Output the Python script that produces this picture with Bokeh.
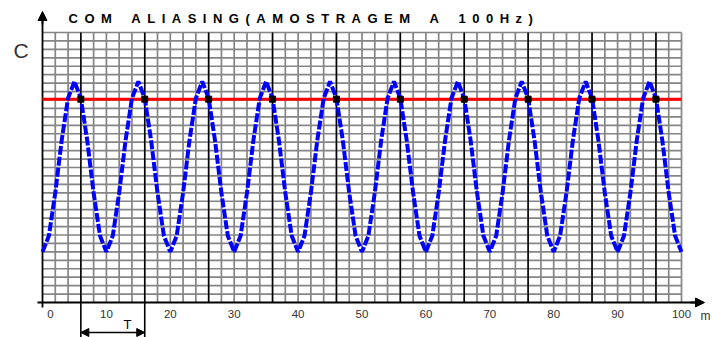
from bokeh.plotting import figure
from bokeh.models import Range1d, Arrow, NormalHead
from bokeh.core.properties import value
from bokeh.embed import file_html
from bokeh.resources import INLINE

# ---------------- data ----------------
TITLE_WORDS = ["COM", "ALIASING(AMOSTRAGEM", "A", "100Hz)"]
Y_LABEL = "C"
X_UNIT = "m"
T_LABEL = "T"
x_ticks = [0, 10, 20, 30, 40, 50, 60, 70, 80, 90, 100]
x_tick_labels = ["0", "10", "20", "30", "40", "50", "60", "70", "80", "90", "100"]

# blue signal, read every 1 ms
t_signal = list(range(0, 101))
c_signal = [
    6.0, 7.9, 13.0, 19.2, 24.2, 26.2, 24.2, 19.2, 13.0, 7.9,
    6.0, 7.9, 13.0, 19.2, 24.2, 26.2, 24.2, 19.2, 13.0, 7.9,
    6.0, 7.9, 13.0, 19.2, 24.2, 26.2, 24.2, 19.2, 13.0, 7.9,
    6.0, 7.9, 13.0, 19.2, 24.2, 26.2, 24.2, 19.2, 13.0, 7.9,
    6.0, 7.9, 13.0, 19.2, 24.2, 26.2, 24.2, 19.2, 13.0, 7.9,
    6.0, 7.9, 13.0, 19.2, 24.2, 26.2, 24.2, 19.2, 13.0, 7.9,
    6.0, 7.9, 13.0, 19.2, 24.2, 26.2, 24.2, 19.2, 13.0, 7.9,
    6.0, 7.9, 13.0, 19.2, 24.2, 26.2, 24.2, 19.2, 13.0, 7.9,
    6.0, 7.9, 13.0, 19.2, 24.2, 26.2, 24.2, 19.2, 13.0, 7.9,
    6.0, 7.9, 13.0, 19.2, 24.2, 26.2, 24.2, 19.2, 13.0, 7.9,
    6.0,
]
# samples at 100 Hz (every 10 ms)
t_samples = [6, 16, 26, 36, 46, 56, 66, 76, 86, 96]
c_samples = [24.1, 24.1, 24.1, 24.1, 24.1, 24.1, 24.1, 24.1, 24.1, 24.1]
aliased_level = 24.1
T_start, T_end = 6, 16

# ---------------- layout helpers ----------------
W, H = 712, 337
X0PX, XPX = 42.0, 6.39      # pixel of x=0, px per unit
Y0PX, YPX = 302.0, 270.0 / 32  # pixel of y=0, px per unit
GRID_X_MAX, GRID_Y_MAX = 100, 32


def dx(px):
    return (px - X0PX) / XPX


def dy(py):
    return (Y0PX - py) / YPX


p = figure(width=W, height=H, output_backend="svg", toolbar_location=None,
           x_range=Range1d(dx(0), dx(W)), y_range=Range1d(dy(H), dy(0)),
           x_axis_type=None, y_axis_type=None, min_border=0,
           outline_line_color=None, background_fill_color="white")
p.grid.visible = False

GRID = "#858585"
# minor grid
vx = list(range(2, GRID_X_MAX + 1, 2))
p.segment(x0=vx, y0=[0] * len(vx), x1=vx, y1=[GRID_Y_MAX] * len(vx),
          line_color=GRID, line_width=1.7)
hy = list(range(1, GRID_Y_MAX + 1))
p.segment(x0=[0] * len(hy), y0=hy, x1=[GRID_X_MAX] * len(hy), y1=hy,
          line_color=GRID, line_width=1.7)

# sample instants (black verticals)
p.segment(x0=t_samples, y0=[0] * len(t_samples), x1=t_samples,
          y1=[GRID_Y_MAX] * len(t_samples), line_color="black", line_width=1.5)

# axes
p.segment(x0=[dx(37)], y0=[0], x1=[dx(698)], y1=[0], line_color="black", line_width=1.8)
p.segment(x0=[0], y0=[dy(307)], x1=[0], y1=[dy(16)], line_color="black", line_width=1.8)
p.add_layout(Arrow(end=NormalHead(size=9, fill_color="black", line_color="black"),
                   x_start=dx(690), y_start=0, x_end=dx(704), y_end=0,
                   line_color="black", line_width=1.8))
p.add_layout(Arrow(end=NormalHead(size=9, fill_color="black", line_color="black"),
                   x_start=0, y_start=dy(24), x_end=0, y_end=dy(11),
                   line_color="black", line_width=1.8))

# aliased level (red)
p.line([0, GRID_X_MAX], [aliased_level, aliased_level], line_color="#ff0000", line_width=3)

# signal
p.line(t_signal, c_signal, line_color="#0000ff", line_width=4, line_dash="9 2")

# sample points
p.scatter(t_samples, c_samples, marker="square", size=6, fill_color="black",
          line_color="black")

# period bracket
p.segment(x0=[T_start, T_end], y0=[0, 0], x1=[T_start, T_end], y1=[dy(H), dy(H)],
          line_color="black", line_width=1.6)
p.add_layout(Arrow(start=NormalHead(size=8, fill_color="black", line_color="black"),
                   end=NormalHead(size=8, fill_color="black", line_color="black"),
                   x_start=T_start, y_start=dy(332), x_end=T_end, y_end=dy(332),
                   line_color="black", line_width=1.6))
p.text(x=[dx(127)], y=[dy(331)], text=[T_LABEL], text_font=value("Liberation Sans"),
       text_font_size="13px", text_align="center", text_baseline="bottom",
       text_color="black")

# tick labels
offs = [8 if v == 0 else 0 for v in x_ticks]
p.text(x=x_ticks, y=[dy(313)] * len(x_ticks), text=x_tick_labels, x_offset=offs,
       text_font=value("Liberation Sans"), text_font_size="11.5px",
       text_align="center", text_baseline="middle", text_color="#333333")
p.text(x=[dx(700)], y=[dy(315)], text=[X_UNIT], text_font=value("Liberation Sans"),
       text_font_size="12px", text_align="left", text_baseline="middle",
       text_color="#333333")

# y label
p.text(x=[dx(13)], y=[dy(50)], text=[Y_LABEL], text_font=value("Liberation Sans"),
       text_font_size="21px", text_align="left", text_baseline="middle",
       text_color="#333333")

# title with letter spacing
LS = "\u2002"
word_gaps = [LS * 3, LS * 3, LS * 3]
title = ""
for i, w in enumerate(TITLE_WORDS):
    title += LS.join(list(w))
    if i < len(word_gaps):
        title += word_gaps[i]
p.text(x=[dx(68)], y=[dy(17.5)], text=[title], text_font=value("Liberation Sans"),
       text_font_size="13px", text_font_style="bold", text_align="left",
       text_baseline="middle", text_color="black")

open("out.html", "w").write(file_html(p, INLINE))
